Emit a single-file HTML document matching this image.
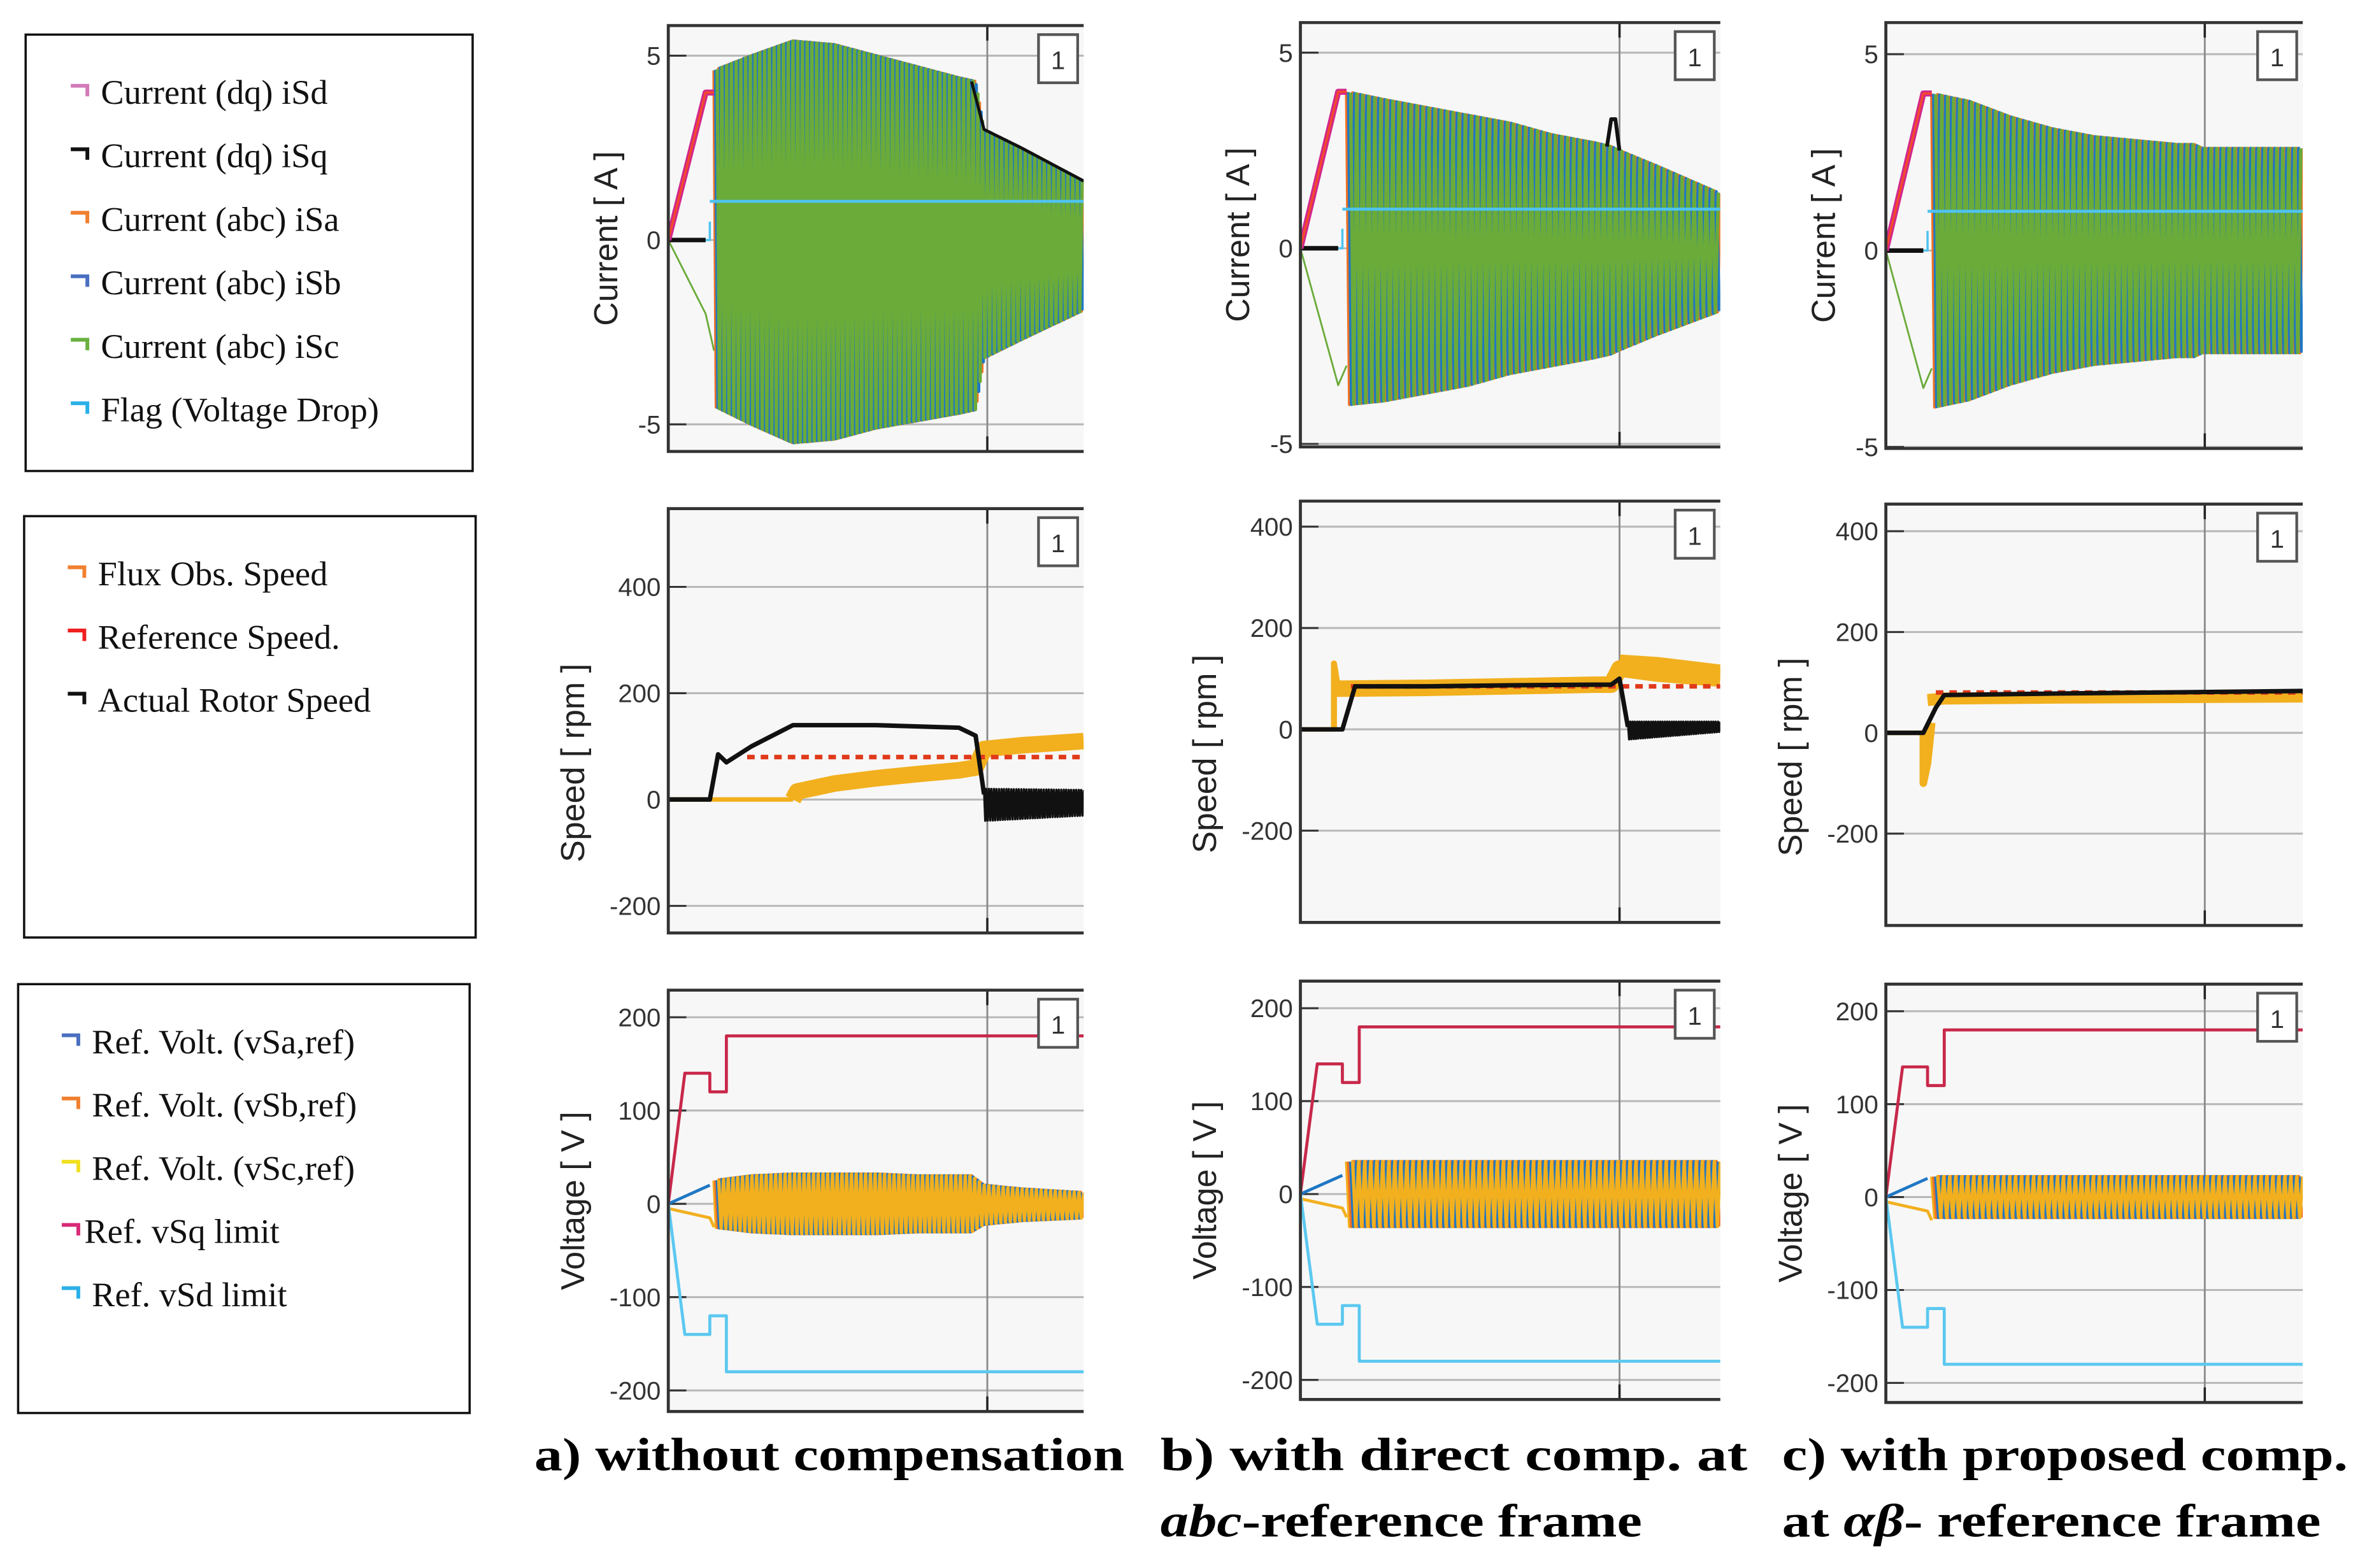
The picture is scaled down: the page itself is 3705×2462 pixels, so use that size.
<!DOCTYPE html>
<html><head><meta charset="utf-8"><style>
html,body{margin:0;padding:0;background:#fff;}
svg{display:block;}
.lg{font-family:"Liberation Serif",serif;font-size:23px;fill:#111;}
.tk{font-family:"Liberation Sans",sans-serif;font-size:17px;fill:#333;}
.yt{font-family:"Liberation Sans",sans-serif;font-size:22px;fill:#222;}
.cap{font-family:"Liberation Serif",serif;font-size:31px;font-weight:bold;fill:#000;}
</style></head><body>
<svg id="fig" xmlns="http://www.w3.org/2000/svg" width="3705" height="2462" viewBox="0 0 1568 1042">
<rect x="0" y="0" width="1568" height="1042" fill="#fff"/>
<g id="legends"></g>
<g id="panels"></g>
<g>
<text class="cap" x="355" y="977" textLength="392" lengthAdjust="spacingAndGlyphs">a) without compensation</text>
<text class="cap" x="771" y="977" textLength="390" lengthAdjust="spacingAndGlyphs">b)  with  direct  comp. at</text>
<text class="cap" x="771" y="1021" textLength="320" lengthAdjust="spacingAndGlyphs"><tspan font-style="italic">abc</tspan>-reference frame</text>
<text class="cap" x="1184" y="977" textLength="376" lengthAdjust="spacingAndGlyphs">c) with proposed comp.</text>
<text class="cap" x="1184" y="1021" textLength="358" lengthAdjust="spacingAndGlyphs">at <tspan font-style="italic">αβ</tspan>- reference frame</text>
</g>
</svg>
<script>
// ---------- data ----------
const curTicks=[5,0,-5];
const spdTicks=[400,200,0,-200];
const volTicks=[200,100,0,-100,-200];
const tEnv=[0.11,0.2,0.3,0.4,0.5,0.6,0.7,0.74,0.76,0.85,1.0];
const curUpA=[4.6,5.0,5.4,5.3,5.0,4.7,4.4,4.3,3.0,2.5,1.6];
const curLoA=[-4.5,-5.0,-5.5,-5.4,-5.1,-4.9,-4.7,-4.6,-3.2,-2.7,-1.9];
const curUpB=[4.0,3.8,3.6,3.4,3.2,2.9,2.7,2.6,2.5,2.1,1.4];
const curLoB=[-4.0,-3.9,-3.7,-3.5,-3.2,-3.0,-2.8,-2.7,-2.6,-2.2,-1.6];
const curUpC=[4.0,3.8,3.4,3.1,2.9,2.8,2.7,2.7,2.6,2.6,2.6];
const curLoC=[-4.0,-3.8,-3.4,-3.1,-2.9,-2.8,-2.7,-2.7,-2.6,-2.6,-2.6];
const flagLevel=[1.05,1.0,1.0];
const dqT=[0,0.09,0.11];
const dqV=[0,4,4];
const spdTA=[0,0.09,0.1,0.12,0.14,0.2,0.3,0.5,0.7,0.74,0.76];
const spdVA=[0,0,0,85,70,100,140,140,135,120,10];
const fluxTA=[0.3,0.31,0.4,0.5,0.6,0.7,0.74,0.76,0.85,1.0];
const fluxVA=[0,15,30,40,48,55,60,95,102,110];
const spdTB=[0,0.08,0.1,0.13,0.3,0.5,0.7,0.74,0.76,0.78];
const spdVB=[0,0,0,85,85,87,88,88,100,5];
const fluxTB=[0.08,0.3,0.5,0.7,0.74,0.76,0.85,1.0];
const fluxVB=[80,82,85,88,88,120,110,100];
const spdTC=[0,0.09,0.12,0.14,0.4,1.0];
const spdVC=[0,0,50,75,78,83];
const fluxTC=[0.1,0.14,0.4,1.0];
const fluxVC=[65,68,70,72];
const refSpeed=[80,85,80];
const refStart=[0.19,0.12,0.12];
const limT=[0,0.04,0.1,0.1,0.14,0.14,1.0];
const limV=[0,140,140,120,120,180,180];
const vEnvT=[0.11,0.2,0.3,0.5,0.6,0.7,0.73,0.76,0.85,1.0];
const vUpA=[25,30,32,32,30,30,30,20,16,12];
const vLoA=[-25,-30,-32,-32,-30,-30,-30,-22,-18,-15];
const vUpB=[35,35,35,35,35,35,35,35,35,35];
const vLoB=[-35,-35,-35,-35,-35,-35,-35,-35,-35,-35];
const vUpC=[22,22,22,22,22,22,22,22,22,22];
const vLoC=[-22,-22,-22,-22,-22,-22,-22,-22,-22,-22];
const cycles=[78,62,62];

// ---------- layout ----------
const NS="http://www.w3.org/2000/svg";
function mk(tag,attrs,parent){const e=document.createElementNS(NS,tag);for(const k in attrs)e.setAttribute(k,attrs[k]);parent.appendChild(e);return e;}
const cols=[{x0:444,x1:720,gx:0.768},{x0:864,x1:1143,gx:0.76},{x0:1253,x1:1530,gx:0.765}];
const rows=[
 [{top:17,bot:300,v1:5,y1:37,v2:-5,y2:282},{top:338,bot:620,v1:400,y1:390,v2:-200,y2:602},{top:658,bot:938,v1:200,y1:676,v2:-200,y2:924}],
 [{top:15,bot:297,v1:5,y1:35,v2:-5,y2:295},{top:333,bot:613,v1:400,y1:350,v2:-200,y2:552},{top:652,bot:930,v1:200,y1:670,v2:-200,y2:917}],
 [{top:15,bot:298,v1:5,y1:36,v2:-5,y2:297},{top:335,bot:615,v1:400,y1:353,v2:-200,y2:554},{top:654,bot:932,v1:200,y1:672,v2:-200,y2:919}]
];
const titles=["Current [ A ]","Speed [ rpm ]","Voltage [ V ]"];
const tickSets=[curTicks,spdTicks,volTicks];
const names=["a","b","c"];
const rnames=["current","speed","voltage"];

function interp(ts,vs,t){if(t<=ts[0])return vs[0];for(let i=1;i<ts.length;i++){if(t<=ts[i]){const f=(t-ts[i-1])/((ts[i]-ts[i-1])||1);return vs[i-1]+f*(vs[i]-vs[i-1]);}}return vs[vs.length-1];}

const P=document.getElementById('panels');
function axes(ci,ri){
 const c=cols[ci],r=rows[ci][ri];
 const X=t=>c.x0+t*(c.x1-c.x0);
 const Y=v=>r.y1+(v-r.v1)*(r.y2-r.y1)/(r.v2-r.v1);
 return {X,Y,c,r};
}
function polyline(g,pts,color,w,name,extra){
 const e=mk('polyline',Object.assign({points:pts.map(p=>p[0].toFixed(1)+','+p[1].toFixed(1)).join(' '),fill:'none',stroke:color,'stroke-width':w,'stroke-linejoin':'round'},extra||{}),g);
 
 
 return e;
}
function series(g,A,ts,vs,color,w,name,extra){
 polyline(g,ts.map((t,i)=>[A.X(t),A.Y(vs[i])]),color,w,name,extra);
}
function osc(g,A,ts,up,lo,t0,t1,N,colors,w,name){
 colors.forEach((col,k)=>{
  const pts=[];
  for(let i=0;i<=2*N;i++){
   const t=t0+(i+k*2/3)/(2*N)*(t1-t0);
   if(t>t1)break;
   const v=(i%2===0)?interp(ts,up,t):interp(ts,lo,t);
   pts.push([A.X(t),A.Y(v)]);
  }
  polyline(g,pts,col,w,name+'-'+k);
 });
}

for(let ci=0;ci<3;ci++)for(let ri=0;ri<3;ri++){
 const A=axes(ci,ri),c=A.c,r=A.r;
 const g=mk('g',{},P);
 
 
 const clipId='clip'+ci+ri;
 const cp=mk('clipPath',{id:clipId},g);mk('rect',{x:c.x0,y:r.top,width:c.x1-c.x0,height:r.bot-r.top},cp);
 const bg=mk('rect',{x:c.x0,y:r.top,width:c.x1-c.x0,height:r.bot-r.top,fill:'#f7f7f7'},g);
 
 
 tickSets[ri].forEach(v=>{
  const y=A.Y(v);
  const gl=mk('line',{x1:c.x0,x2:c.x1,y1:y,y2:y,stroke:'#b8b8b8','stroke-width':1.3},g);
  
  
  mk('line',{x1:c.x0,x2:c.x0+12,y1:y,y2:y,stroke:'#333','stroke-width':1.3},g);
  const tl=mk('text',{x:c.x0-5,y:y+6,'text-anchor':'end',class:'tk'},g);
  tl.textContent=v;
  
  
 });
 const gx=A.X(c.gx);
 const vg=mk('line',{x1:gx,x2:gx,y1:r.top,y2:r.bot,stroke:'#8a8a8a','stroke-width':1.2},g);
 
 
 mk('line',{x1:gx,x2:gx,y1:r.top,y2:r.top+10,stroke:'#222','stroke-width':1.5},g);
 mk('line',{x1:gx,x2:gx,y1:r.bot-10,y2:r.bot,stroke:'#222','stroke-width':1.5},g);
 const d=mk('g',{'clip-path':'url(#'+clipId+')'},g);
 
 
 if(ri===0){
  const up=[curUpA,curUpB,curUpC][ci],lo=[curLoA,curLoB,curLoC][ci];
  series(d,A,[0,0.09,0.11],[0,-2.5*(ci===0?0.8:1.4),-3],'#6aab3a',1.2,'isc-start');
  series(d,A,[0,0.1,0.1],[0,0,0.5],'#4fc3f0',1.5,'flag-start');
  series(d,A,[0,0.09],[0,0],'#111',3,'isq-start');
  osc(d,A,tEnv,up,lo,0.11,1.0,cycles[ci],['#f07022','#1f77c4','#6aab3a'],2.2,'phase-current');
  series(d,A,dqT,dqV,'#d2268c',4,'isd');
  series(d,A,dqT,dqV,'#f24a2a',1.5,'isd-overlay');
  if(ci===0)series(d,A,[0.73,0.76,0.85,1.0],[4.3,3.0,2.5,1.6],'#111',2,'isq-tail');
  if(ci===1)series(d,A,[0.73,0.74,0.75,0.76],[2.6,3.3,3.3,2.5],'#111',2.5,'isq-spike');
  series(d,A,[0.1,1.0],[flagLevel[ci],flagLevel[ci]],'#4fc3f0',2,'flag-voltage-drop');
 } else if(ri===1){
  const sT=[spdTA,spdTB,spdTC][ci],sV=[spdVA,spdVB,spdVC][ci];
  const fT=[fluxTA,fluxTB,fluxTC][ci],fV=[fluxVA,fluxVB,fluxVC][ci];
  series(d,A,[0,fT[0]],[0,0],'#f2b01e',3,'flux-start');
  series(d,A,fT,fV,'#f2b01e',ci===2?8:11,'flux-obs-speed');
  if(ci===1)series(d,A,[0.76,0.85,1.0],[130,125,110],'#f2b01e',12,'flux-band-top');
  if(ci===2)series(d,A,[0.09,0.09,0.1,0.11],[0,-100,-60,20],'#f2b01e',5,'flux-spike');
  if(ci===1)series(d,A,[0.08,0.08,0.09],[0,130,80],'#f2b01e',4,'flux-spike');
  series(d,A,[refStart[ci],1.0],[refSpeed[ci],refSpeed[ci]],'#e03a1a',3,'reference-speed',{'stroke-dasharray':'5,4'});
  series(d,A,sT,sV,'#111',3,'actual-rotor-speed');
  if(ci===0)osc(d,A,[0.76,1.0],[20,18],[-40,-30],0.76,1.0,40,['#111'],1.5,'rotor-speed-osc');
  if(ci===1)osc(d,A,[0.78,1.0],[15,15],[-20,-5],0.78,1.0,40,['#111'],1.5,'rotor-speed-osc');
 } else {
  const up=[vUpA,vUpB,vUpC][ci],lo=[vLoA,vLoB,vLoC][ci];
  series(d,A,[0,0.1],[0,20],'#1f77c4',2,'vsa-start');
  series(d,A,[0,0.1,0.11],[-5,-15,-25],'#f2b01e',2,'vsc-start');
  osc(d,A,vEnvT,up,lo,0.11,1.0,cycles[ci],['#f2b01e','#f07022','#1f77c4','#f2b01e'],2.2,'ref-voltage');
  series(d,A,limT,limV,'#c8284a',2,'vsq-limit');
  series(d,A,limT,limV.map(v=>-v),'#5bc8f0',2,'vsd-limit');
 }
 const br=mk('path',{d:`M${c.x1},${r.top}H${c.x0}V${r.bot}H${c.x1}`,fill:'none',stroke:'#333','stroke-width':2},g);
 
 
 const bx=c.x1-30,by=r.top+6;
 const b1=mk('rect',{x:bx,y:by,width:26,height:32,fill:'#fff',stroke:'#555','stroke-width':1.8},g);
 
 
 const t1=mk('text',{x:bx+13,y:by+23,'text-anchor':'middle',class:'tk'},g);t1.textContent='1';
 
 
 const cy=(r.top+r.bot)/2+(ri===1?28:0);
 const tx=c.x0-(ri===0?34:56);
 const yt=mk('text',{x:tx,y:cy,'text-anchor':'middle',class:'yt',transform:`rotate(-90 ${tx} ${cy})`},g);
 yt.textContent=titles[ri];
 
 
}

// ---------- legends ----------
const L=document.getElementById('legends');
const legendBoxes=[
 {x:17,y:23,w:297,h:290,lx:47,y0:62,dy:42.2,items:[["Current (dq) iSd","#d27ab8"],["Current (dq) iSq","#111"],["Current (abc) iSa","#f08030"],["Current (abc) iSb","#4a6fc0"],["Current (abc) iSc","#6ab040"],["Flag (Voltage Drop)","#2ab0e8"]]},
 {x:16,y:343,w:300,h:280,lx:45,y0:382,dy:42,items:[["Flux Obs. Speed","#f08030"],["Reference Speed.","#f02020"],["Actual Rotor Speed","#111"]]},
 {x:12,y:654,w:300,h:285,lx:41,y0:693,dy:42,items:[["Ref. Volt. (vSa,ref)","#4a6fc0"],["Ref. Volt. (vSb,ref)","#f08030"],["Ref. Volt. (vSc,ref)","#f0e020"],["Ref. vSq limit","#d82a78"],["Ref. vSd limit","#2ab0e8"]]}
];
legendBoxes.forEach((b,bi)=>{
 const g=mk('g',{},L);
 
 
 mk('rect',{x:b.x,y:b.y,width:b.w,height:b.h,fill:'#fff',stroke:'#111','stroke-width':1.5},g);
 b.items.forEach((it,i)=>{
  const y=b.y0+i*b.dy;
  const eg=mk('g',{},g);
  
  
  mk('path',{d:`M${b.lx},${y-5}H${b.lx+11}V${y+2}`,fill:'none',stroke:it[1],'stroke-width':2.5},eg);
  const t=mk('text',{x:b.lx+(bi===2&&i===3?15:20),y:y+7,class:'lg'},eg);
  t.textContent=it[0];
 });
});
</script>
</body></html>
